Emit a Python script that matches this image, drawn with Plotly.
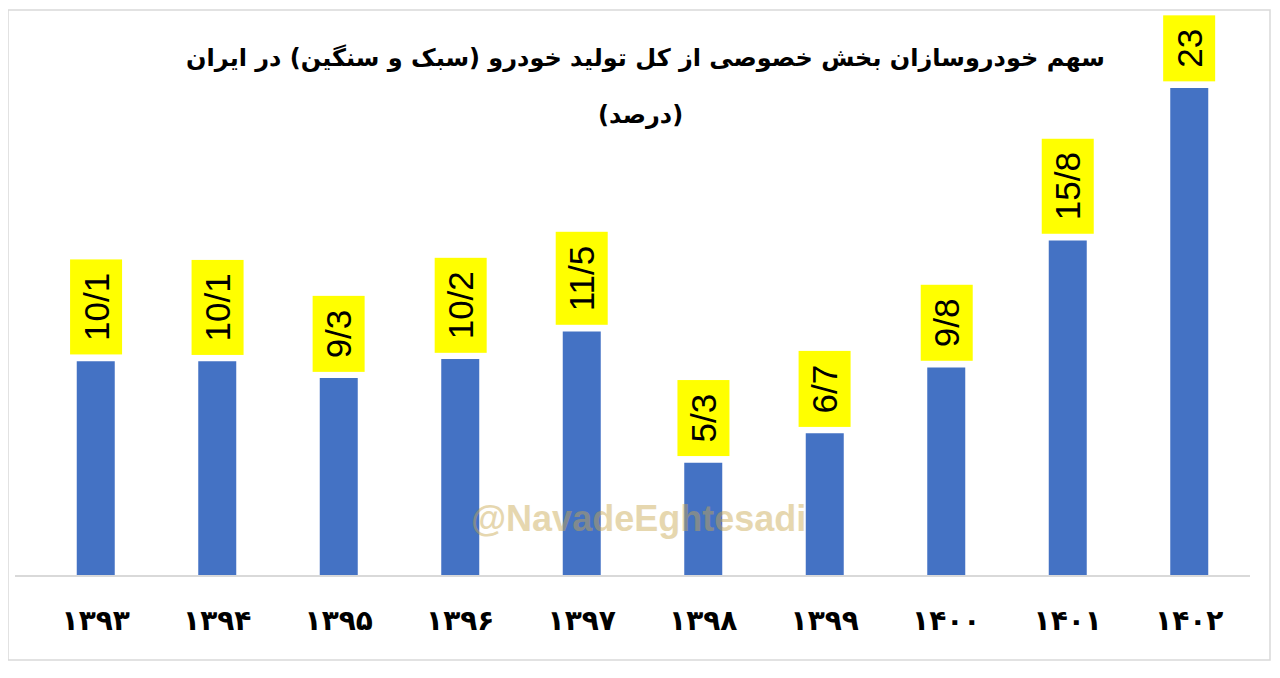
import plotly.graph_objects as go

years = ["۱۳۹۳", "۱۳۹۴", "۱۳۹۵", "۱۳۹۶", "۱۳۹۷", "۱۳۹۸", "۱۳۹۹", "۱۴۰۰", "۱۴۰۱", "۱۴۰۲"]
values = [10.1, 10.1, 9.3, 10.2, 11.5, 5.3, 6.7, 9.8, 15.8, 23]
labels = ["10/1", "10/1", "9/3", "10/2", "11/5", "5/3", "6/7", "9/8", "15/8", "23"]
title_line1 = "سهم خودروسازان بخش خصوصی از کل تولید خودرو (سبک و سنگین) در ایران"
title_line2 = "(درصد)"
watermark = "@NavadeEghtesadi"

OFF = 8  # default page body margin
W, H = 1264, 662
# page-pixel geometry of the plot area
PL, PR, PT, PB = 15, 1250, 30, 575
L = PL - OFF
R = W - (PR - OFF)
T = PT - OFF
B = H - (PB - OFF)
pw, ph = W - L - R, H - T - B

def px_to_paper_x(px):
    return (px - OFF - L) / pw

def px_to_paper_y(py):
    return (H - B - (py - OFF)) / ph

xs = list(range(len(years)))

fig = go.Figure()
fig.add_trace(go.Bar(
    x=xs, y=values,
    marker=dict(color="#4472C4", line=dict(width=0)),
    hoverinfo="skip",
))

annotations = []
for x, v, lab in zip(xs, values, labels):
    annotations.append(dict(
        x=x, y=v, xref="x", yref="y",
        text="\u2009" + lab + "\u2009", textangle=-90, showarrow=False,
        xanchor="center", yanchor="bottom", yshift=6,
        bgcolor="#FFFF00", borderpad=6,
        font=dict(family="Liberation Sans", size=35, color="#000000"),
    ))

annotations.append(dict(
    x=px_to_paper_x(645), y=px_to_paper_y(58), xref="paper", yref="paper",
    text="<b>" + title_line1 + "</b>", showarrow=False,
    xanchor="center", yanchor="middle",
    font=dict(family="DejaVu Sans", size=24, color="#000000"),
))
annotations.append(dict(
    x=px_to_paper_x(640), y=px_to_paper_y(115), xref="paper", yref="paper",
    text="<b>" + title_line2 + "</b>", showarrow=False,
    xanchor="center", yanchor="middle",
    font=dict(family="DejaVu Sans", size=24, color="#000000"),
))
annotations.append(dict(
    x=px_to_paper_x(638), y=px_to_paper_y(518), xref="paper", yref="paper",
    text="<b>" + watermark + "</b>", showarrow=False,
    xanchor="center", yanchor="middle", opacity=0.45,
    font=dict(family="Liberation Sans", size=36, color="#C9A850"),
))

shapes = [dict(
    type="rect", xref="paper", yref="paper",
    x0=px_to_paper_x(8), x1=px_to_paper_x(1270),
    y0=px_to_paper_y(660), y1=px_to_paper_y(10),
    line=dict(color="#D9D9D9", width=1.5), fillcolor="rgba(0,0,0,0)", layer="below",
)]

slot = (PR - PL) / (len(years) + 20 / 121.5)
fig.update_layout(
    width=W, height=H,
    margin=dict(l=L, r=R, t=T, b=B),
    paper_bgcolor="white", plot_bgcolor="white",
    showlegend=False,
    bargap=1 - 38 / slot,
    annotations=annotations,
    shapes=shapes,
    xaxis=dict(
        range=[-0.5 - 20 / 121.5, len(years) - 0.5],
        tickvals=xs, ticktext=["<b>" + y + "</b>" for y in years],
        tickfont=dict(family="DejaVu Sans", size=28, color="#000000"),
        showline=True, linecolor="#D9D9D9", linewidth=1.5,
        showgrid=False, zeroline=False, ticks="",
        ticklabelstandoff=20,
        fixedrange=True,
    ),
    yaxis=dict(
        range=[0, (PB - PT) / 21.17],
        visible=False, showgrid=False, zeroline=False,
        fixedrange=True,
    ),
)

fig.write_html("out.html")
